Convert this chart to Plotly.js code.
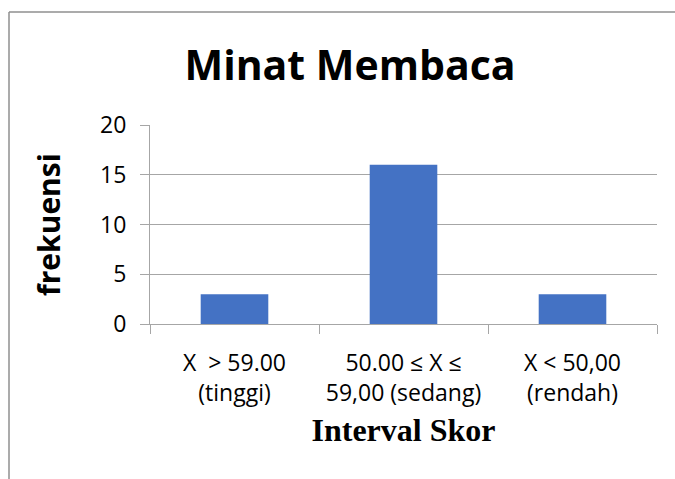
<!DOCTYPE html>
<html>
<head>
<meta charset="utf-8">
<script src="https://cdn.plot.ly/plotly-3.0.1.min.js"></script>
<style>
html,body{margin:0;padding:0;background:#fff;}
#chart{width:675px;height:479px;}
</style>
</head>
<body>
<div id="chart"></div>
<script>
// Data
const categories = [
  "X\u00a0\u00a0> 59.00<br>(tinggi)",
  "50.00 \u2264 X \u2264<br>59,00 (sedang)",
  "X < 50,00<br>(rendah)"
];
const frekuensi = [3, 16, 3];
const yTicks = [0, 5, 10, 15, 20];

const W = 675, H = 479;
const L = 150, R = 18, T = 125, B = 155;
const pw = W - L - R, ph = H - T - B;
// frame position in pixels converted to paper coords
const fx0 = (9 - L) / pw, fx1 = (W + 5 - L) / pw;
const fy0 = (H - B - 12) / ph, fy1 = (H - B - H - 5) / ph;

const trace = {
  type: "bar",
  x: categories,
  y: frekuensi,
  marker: {color: "#4472C4", line: {width: 0}},
  hoverinfo: "x+y"
};

const gray = "#a6a6a6";
const layout = {
  width: W, height: H,
  margin: {l: L, r: R, t: T, b: B, pad: 0},
  paper_bgcolor: "#ffffff",
  plot_bgcolor: "#ffffff",
  showlegend: false,
  bargap: 0.6,
  font: {family: "'Open Sans', sans-serif", color: "#000"},
  title: {
    text: "<b>Minat Membaca</b>",
    font: {family: "'Open Sans', sans-serif", size: 41, color: "#000"},
    x: 350 / W, xref: "container", xanchor: "center",
    y: (H - 66) / H, yref: "container", yanchor: "middle"
  },
  xaxis: {
    type: "category",
    tickson: "boundaries",
    ticks: "outside", ticklen: 9, tickcolor: gray, tickwidth: 1,
    ticklabelstandoff: 18,
    showline: true, linecolor: gray, linewidth: 1,
    showgrid: false,
    tickfont: {size: 23, family: "'Open Sans', sans-serif", color: "#000"},
    title: {
      text: "<b>Interval Skor</b>",
      font: {family: "'Liberation Serif', 'Times New Roman', serif", size: 32, color: "#000"},
      standoff: 12
    },
    automargin: false
  },
  yaxis: {
    range: [0, 20],
    tickvals: yTicks,
    ticks: "outside", ticklen: 9, tickcolor: gray, tickwidth: 1,
    ticklabelstandoff: 9,
    showline: true, linecolor: gray, linewidth: 1,
    showgrid: true, gridcolor: gray, gridwidth: 1,
    zeroline: false,
    tickfont: {size: 23, family: "'Open Sans', sans-serif", color: "#000"},
    title: {
      text: "<b>frekuensi</b>",
      font: {family: "'Open Sans', sans-serif", size: 30, color: "#000"},
      standoff: 30
    },
    automargin: false
  },
  shapes: [
    {type: "line", xref: "paper", yref: "paper", x0: fx0, x1: fx0, y0: fy0, y1: fy1,
     line: {color: "#8f8f8f", width: 1.5}},
    {type: "line", xref: "paper", yref: "paper", x0: fx0, x1: fx1, y0: fy0, y1: fy0,
     line: {color: "#8f8f8f", width: 1.5}}
  ]
};

Plotly.newPlot("chart", [trace], layout, {displayModeBar: false, staticPlot: true});
</script>
</body>
</html>
